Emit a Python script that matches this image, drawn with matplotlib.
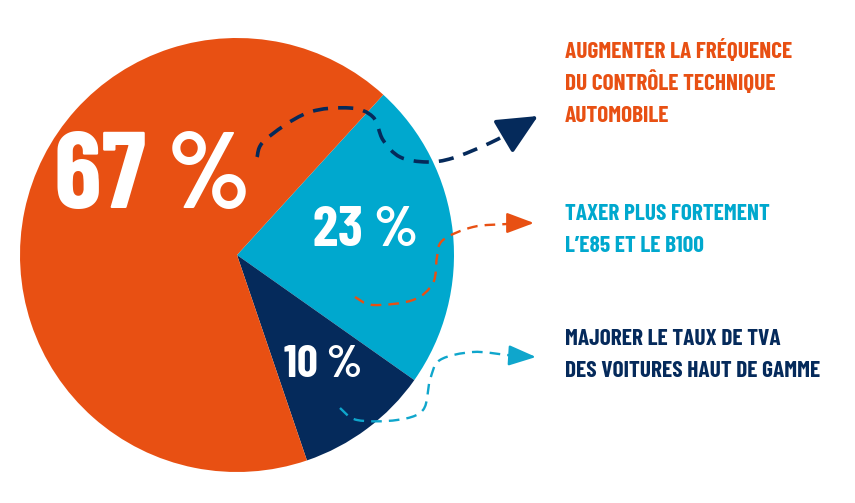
import matplotlib
matplotlib.use("Agg")
import matplotlib.pyplot as plt
import numpy as np
from matplotlib.path import Path
from matplotlib.patches import PathPatch

# data
label_lines = [["TAXER PLUS FORTEMENT", "L\u2019E85 ET LE B100"],
               ["MAJORER LE TAUX DE TVA", "DES VOITURES HAUT DE GAMME"],
               ["AUGMENTER LA FRÉQUENCE", "DU CONTRÔLE TECHNIQUE", "AUTOMOBILE"]]
values = [23, 10, 67]
pct_text = ["23 %", "10 %", "67 %"]
colors = ["#00A8CE", "#052A5B", "#E85013"]

W, H = 855, 503
fig = plt.figure(figsize=(W / 100, H / 100), dpi=100)
ax = fig.add_axes([0, 0, 1, 1])

font = ["Barlow Condensed", "DejaVu Sans"]

cx, cy, r = 237, H - 255, 217
ax.pie(values, colors=colors, startangle=47.6, counterclock=False,
       center=(cx, cy), radius=r, frame=True,
       wedgeprops=dict(linewidth=0))
ax.set_xlim(0, W)
ax.set_ylim(0, H)
ax.set_aspect("equal")
ax.axis("off")

# percentage labels: x centre, baseline y (from top), font size
pct_pos = [(365, 246, 41), (323, 377, 33), (152, 208, 78)]
for t, (x, y, fs) in zip(pct_text, pct_pos):
    ax.text(x, H - y, t, color="white", fontsize=fs,
            fontweight="bold", family=font, stretch="condensed",
            ha="center", va="baseline")

# right-hand labels, first baseline (from top)
lab_pos = [(565, 220), (565, 345), (565, 58)]
for lines, c, (x, y) in zip(label_lines, colors, lab_pos):
    for i, line in enumerate(lines):
        ax.text(x, H - (y + 32 * i), line, color=c, fontsize=16.8,
                fontweight="bold", family=font, stretch="condensed",
                ha="left", va="baseline")


def smooth(pts):
    p = np.array(pts, dtype=float)
    p[:, 1] = H - p[:, 1]
    ext = np.vstack([p[0], p, p[-1]])
    verts = [p[0]]
    codes = [Path.MOVETO]
    for i in range(1, len(ext) - 2):
        c1 = ext[i] + (ext[i + 1] - ext[i - 1]) / 6
        c2 = ext[i + 1] - (ext[i + 2] - ext[i]) / 6
        verts += [c1, c2, ext[i + 1]]
        codes += [Path.CURVE4] * 3
    return Path(verts, codes), p


arrows = [
    ([(257, 157), (265, 140), (307, 113), (350, 108), (373, 117), (383, 140),
      (400, 157), (427, 162), (453, 158), (490, 143), (516, 129)],
     (538, 116), "#052A5B", 2.6, (4.2, 2.8), (1.8, 0.85)),
    ([(355, 297), (373, 305), (413, 300), (433, 283), (437, 257), (443, 240),
      (473, 227), (507, 224), (518, 223)],
     (534, 223), "#E85013", 1.7, (4.5, 3.0), (1.2, 0.45)),
    ([(340, 408), (357, 420), (397, 420), (423, 410), (430, 380), (440, 360),
      (473, 352), (507, 355), (519, 356)],
     (536, 357), "#0FA6CC", 1.7, (4.5, 3.0), (1.2, 0.45)),
]
for pts, tip, c, lw, dash, (hl, hw) in arrows:
    path, p = smooth(pts)
    ax.add_patch(PathPatch(path, fill=False, edgecolor=c, lw=lw,
                           linestyle=(0, dash)))
    ax.annotate("", xy=(tip[0], H - tip[1]), xytext=p[-1],
                arrowprops=dict(arrowstyle="-|>,head_length=%.2f,head_width=%.2f" % (hl, hw),
                                color=c, lw=lw, mutation_scale=14,
                                shrinkA=0, shrinkB=0))

fig.savefig("out.png", dpi=100)
